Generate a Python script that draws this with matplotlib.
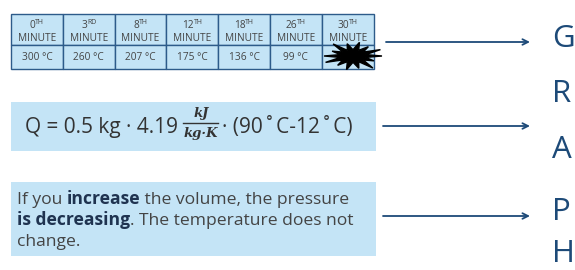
import matplotlib
matplotlib.use("Agg")
import matplotlib.pyplot as plt
from matplotlib.patches import Rectangle, Polygon
import numpy as np

# data
minutes = ["0", "3", "8", "12", "18", "26", "30"]
suffixes = ["TH", "RD", "TH", "TH", "TH", "TH", "TH"]
temps = ["300 °C", "260 °C", "207 °C", "175 °C", "136 °C", "99 °C", ""]
letters = ["G", "R", "A", "P", "H"]
paragraph = [
    [("If you ", False), ("increase", True), (" the volume, the pressure", False)],
    [("is decreasing", True), (". The temperature does not", False)],
    [("change.", False)],
]

FONT = "Open Sans"
BOX = "#c4e4f6"
EDGE = "#2d5b8a"
GREY = "#444444"
NAVY = "#1d4a78"

fig = plt.figure(figsize=(5.75, 2.7), dpi=100)
ax = fig.add_axes([0, 0, 1, 1])
ax.set_xlim(0, 575)
ax.set_ylim(270, 0)
ax.axis("off")
fig.canvas.draw()
renderer = fig.canvas.get_renderer()


def text_width(s, **kw):
    # width in pixels incl. trailing spaces
    t1 = ax.text(0, 0, s + "x", **kw)
    t2 = ax.text(0, 0, "x", **kw)
    w = t1.get_window_extent(renderer).width - t2.get_window_extent(renderer).width
    t1.remove()
    t2.remove()
    return w


# --- table ---
x0, col_w = 11, 51.8
top, mid, bot = 14, 45, 69
for i, (m, suf, temp) in enumerate(zip(minutes, suffixes, temps)):
    xl = x0 + i * col_w
    ax.add_patch(Rectangle((xl, top), col_w, mid - top, fc=BOX, ec=EDGE, lw=1))
    ax.add_patch(Rectangle((xl, mid), col_w, bot - mid, fc=BOX, ec=EDGE, lw=1))
    cx = xl + col_w / 2
    wn = text_width(m, family=FONT, fontsize=7.3)
    ws = text_width(suf, family=FONT, fontsize=5)
    start = cx - (wn + ws) / 2
    ax.text(start, 28, m, family=FONT, fontsize=7.3, color=GREY, va="baseline")
    ax.text(start + wn, 24, suf, family=FONT, fontsize=5, color=GREY, va="baseline")
    ax.text(cx, 41, "MINUTE", family=FONT, fontsize=7.3, color=GREY,
            ha="center", va="baseline")
    if temp:
        ax.text(cx, 60, temp, family=FONT, fontsize=7.3, color=GREY,
                ha="center", va="baseline")

# starburst over the last value
ang = np.linspace(0, 2 * np.pi, 28, endpoint=False)
rad = np.where(np.arange(28) % 2 == 0, 1.0, 0.45)
rad = rad * np.array([1, 1, .8, 1, 1.1, 1, .9, 1, 1, 1, .85, 1, 1.05, 1] * 2)
star = np.column_stack([353 + 29 * rad * np.cos(ang), 56 + 14 * rad * np.sin(ang)])
ax.add_patch(Polygon(star, closed=True, fc="black", ec="black", zorder=5))

# --- formula box ---
ax.add_patch(Rectangle((11, 102), 365, 49, fc=BOX, ec="none"))
fs = 15
x = 25
part1 = "Q = 0.5 kg · 4.19 "
ax.text(x, 133, part1, family=FONT, fontsize=fs, color="#333333", va="baseline")
x += text_width(part1, family=FONT, fontsize=fs)
frac_w = 35
fx = x + frac_w / 2
ax.text(fx, 117, "kJ", family="DejaVu Serif", style="italic", fontweight="bold",
        fontsize=9.5, color="#333333", ha="center", va="baseline")
ax.plot([x, x + frac_w], [123, 123], color="#333333", lw=1)
ax.text(fx, 137, "kg·K", family="DejaVu Serif", style="italic", fontweight="bold",
        fontsize=9.5, color="#333333", ha="center", va="baseline")
x += frac_w + 4
ax.text(x, 133, "· (90\u2009˚\u2009C-12\u2009˚\u2009C)", family=[FONT, "DejaVu Sans"],
        fontsize=fs, color="#333333", va="baseline")

# --- paragraph box ---
ax.add_patch(Rectangle((11, 182), 365, 74, fc=BOX, ec="none"))
for j, line in enumerate(paragraph):
    x = 17
    y = 204 + j * 21
    for s, bold in line:
        kw = dict(family=FONT, fontsize=12.6, fontweight="bold" if bold else "normal")
        ax.text(x, y, s, color="#1f3350" if bold else GREY, va="baseline", **kw)
        x += text_width(s, **kw)

# --- arrows ---
for y0, xs in [(42, 386), (126, 383), (216, 383)]:
    ax.annotate("", xy=(530, y0), xytext=(xs, y0),
                arrowprops=dict(arrowstyle="->", color=NAVY, lw=1.3,
                                shrinkA=0, shrinkB=0))

# --- letters ---
letter_y = [47, 102, 158, 220, 262]
for ch, y in zip(letters, letter_y):
    ax.text(552, y, ch, family=FONT, fontsize=22.5, color=NAVY, va="baseline")

fig.savefig("out.png", dpi=100)
